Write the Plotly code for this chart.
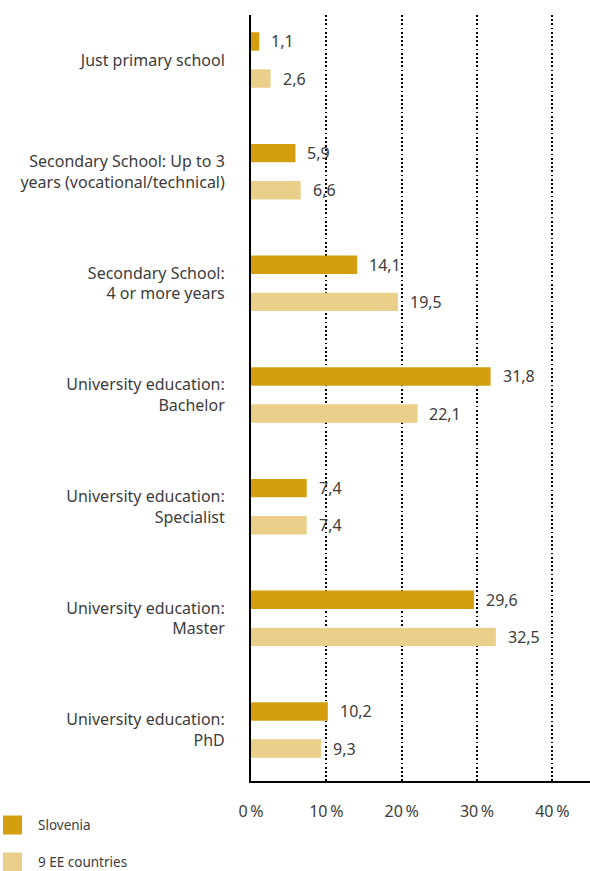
import plotly.graph_objects as go

# Education level of respondents, share in %
categories = [
    "Just primary school",
    "Secondary School: Up to 3<br>years (vocational/technical)",
    "Secondary School:<br>4 or more years",
    "University education:<br>Bachelor",
    "University education:<br>Specialist",
    "University education:<br>Master",
    "University education:<br>PhD",
]
series_names = ["Slovenia", "9 EE countries"]
slovenia = [1.1, 5.9, 14.1, 31.8, 7.4, 29.6, 10.2]
ee_countries = [2.6, 6.6, 19.5, 22.1, 7.4, 32.5, 9.3]
x_ticks = [0, 10, 20, 30, 40]
x_tick_labels = ["0\u2009%", "10\u2009%", "20\u2009%", "30\u2009%", "40\u2009%"]

colors = ["#D39F0F", "#EACF8B"]
text_color = "#3c3c3c"
font_family = "Noto Sans"

W, H = 590, 871
margin = dict(l=251, r=0, t=15, b=90)

bar_w = 0.165
half_gap = 0.166  # distance of each bar centre from the category centre

fig = go.Figure()
for name, vals, col, off in [
    (series_names[0], slovenia, colors[0], -half_gap - bar_w / 2),
    (series_names[1], ee_countries, colors[1], half_gap - bar_w / 2),
]:
    fig.add_trace(go.Bar(
        y=categories, x=vals, orientation="h", name=name,
        marker=dict(color=col, line=dict(width=0)),
        width=bar_w, offset=off, showlegend=False,
        hoverinfo="x+y",
    ))

# Value labels just past the bar ends
plot_h = H - margin["t"] - margin["b"]
y_min, y_max = -0.403, 6.457
px_per_unit = plot_h / (y_max - y_min)
annotations = []
for vals, sign in [(slovenia, 1), (ee_countries, -1)]:
    for cat, v in zip(categories, vals):
        annotations.append(dict(
            x=v, y=cat, xref="x", yref="y",
            text=f"{v:.1f}".replace(".", ","),
            showarrow=False, xanchor="left", yanchor="middle",
            xshift=10, yshift=sign * half_gap * px_per_unit,
            font=dict(family=font_family, size=16, color=text_color),
        ))

# Legend keys at the bottom left
legend_rows = [(series_names[0], colors[0], 825), (series_names[1], colors[1], 862)]
shapes = []
plot_w = W - margin["l"] - margin["r"]
for name, col, yc in legend_rows:
    shapes.append(dict(
        type="rect", xref="paper", yref="paper",
        x0=(3 - margin["l"]) / plot_w, x1=(22 - margin["l"]) / plot_w,
        y0=(H - yc - 9.5 - margin["b"]) / plot_h, y1=(H - yc + 9.5 - margin["b"]) / plot_h,
        fillcolor=col, line=dict(width=0),
    ))
    annotations.append(dict(
        x=(36 - margin["l"]) / plot_w, y=(H - yc - margin["b"]) / plot_h,
        xref="paper", yref="paper", text=name, showarrow=False,
        xanchor="left", yanchor="middle",
        font=dict(family=font_family, size=13.5, color=text_color),
    ))

fig.update_layout(
    width=W, height=H, margin=margin,
    plot_bgcolor="white", paper_bgcolor="white",
    barmode="overlay",
    font=dict(family=font_family, size=16, color=text_color),
    annotations=annotations, shapes=shapes,
    showlegend=False,
    xaxis=dict(
        range=[0, 45], tickvals=x_ticks, ticktext=x_tick_labels,
        showgrid=True, gridcolor="black", griddash="1.8px,2.4px", gridwidth=1.8,
        zeroline=False, showline=True, linecolor="black", linewidth=2,
        ticks="", ticklabelstandoff=15,
        tickfont=dict(family=font_family, size=16, color=text_color),
        fixedrange=True,
    ),
    yaxis=dict(
        type="category", categoryorder="array", categoryarray=categories,
        range=[y_max, y_min],
        showgrid=False, zeroline=False,
        showline=True, linecolor="black", linewidth=2,
        ticks="", ticklabelstandoff=21,
        tickfont=dict(family=font_family, size=16, color=text_color),
        fixedrange=True,
    ),
)

fig.write_html("out.html")
